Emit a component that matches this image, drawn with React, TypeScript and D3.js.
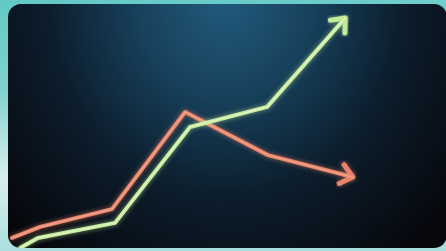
import * as d3 from 'd3';

// x and y in percent of the frame (0..100)
const GROWTH_X = [4.5, 8.5, 25.8, 42.6, 59.9, 77.4];
const GROWTH_Y = [1.2, 5.2, 11.2, 49.4, 57.4, 92.8];
const DECLINE_X = [2.7, 9.0, 25.1, 41.5, 60.1, 79.1];
const DECLINE_Y = [5.2, 9.6, 16.7, 55.4, 38.2, 29.5];

const W = 446;
const H = 251;

type Pt = [number, number];

const SERIES = [
  { name: 'decline', xs: DECLINE_X, ys: DECLINE_Y, color: '#e8846a', core: '#f4b29c' },
  { name: 'growth', xs: GROWTH_X, ys: GROWTH_Y, color: '#c4ea9c', core: '#eefad8' },
];

export default function App() {
  const x = d3.scaleLinear().domain([0, 100]).range([0, W]);
  const y = d3.scaleLinear().domain([0, 100]).range([H, 0]);
  const line = d3.line<Pt>().x((d) => d[0]).y((d) => d[1]);

  const arrowHead = (pts: Pt[]) => {
    const [x1, y1] = pts[pts.length - 2];
    const [x2, y2] = pts[pts.length - 1];
    const a = Math.atan2(y2 - y1, x2 - x1);
    const len = 15;
    const spread = 0.7;
    const p1: Pt = [x2 - len * Math.cos(a - spread), y2 - len * Math.sin(a - spread)];
    const p2: Pt = [x2 - len * Math.cos(a + spread), y2 - len * Math.sin(a + spread)];
    return line([p1, [x2, y2], p2]) ?? '';
  };

  return (
    <div style={{ position: 'fixed', left: 0, top: 0, width: W, height: H }}>
      <svg width={W} height={H}>
        <defs>
          <linearGradient id="outer" x1="0" y1="0" x2="0.15" y2="1">
            <stop offset="0" stopColor="#62c9c6" />
            <stop offset="0.35" stopColor="#80d2d0" />
            <stop offset="0.7" stopColor="#d8eeec" />
            <stop offset="1" stopColor="#a8dedc" />
          </linearGradient>
          <radialGradient id="panel" cx="225" cy="0" r="320" gradientUnits="userSpaceOnUse"
            gradientTransform="translate(225 0) scale(0.9 1) translate(-225 0)">
            <stop offset="0" stopColor="#225a7c" />
            <stop offset="0.3" stopColor="#17415c" />
            <stop offset="0.62" stopColor="#0c1d2c" />
            <stop offset="1" stopColor="#07080d" />
          </radialGradient>
          <filter id="glow" x="-20%" y="-20%" width="140%" height="140%">
            <feGaussianBlur stdDeviation="2" />
          </filter>
          <clipPath id="clip">
            <rect x={8} y={4} width={W - 7} height={H - 7} rx={13} />
          </clipPath>
        </defs>
        <rect width={W} height={H} fill="url(#outer)" />
        <rect x={8} y={4} width={W - 7} height={H - 7} rx={13} fill="url(#panel)" />
        <g clipPath="url(#clip)">
          {SERIES.map((s) => {
            const pts: Pt[] = s.xs.map((v, i) => [x(v), y(s.ys[i])]);
            const d = line(pts) ?? '';
            const head = arrowHead(pts);
            return (
              <g key={s.name} fill="none" strokeLinejoin="round" strokeLinecap="round">
                <path d={d} stroke={s.color} strokeWidth={6} opacity={0.4} filter="url(#glow)" />
                <path d={head} stroke={s.color} strokeWidth={7} opacity={0.4} filter="url(#glow)" />
                <path d={d} stroke={s.color} strokeWidth={4} />
                <path d={head} stroke={s.color} strokeWidth={5} />
                <path d={d} stroke={s.core} strokeWidth={1.5} opacity={0.6} />
              </g>
            );
          })}
        </g>
      </svg>
    </div>
  );
}
